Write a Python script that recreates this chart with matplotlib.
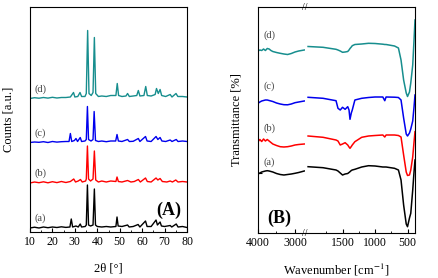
import matplotlib
matplotlib.use("Agg")
import matplotlib.pyplot as plt
from matplotlib.ticker import MultipleLocator, FixedLocator, NullLocator

plt.rcParams["font.family"] = ["Liberation Serif", "DejaVu Serif"]
plt.rcParams["mathtext.fontset"] = "stix"

# ---------------- XRD data (A) ----------------
# 2theta positions and counts (relative to each pattern's baseline)
xrd_a_tt = [10, 12, 14, 16, 18, 20, 22, 24, 26, 27.8, 28.4, 29, 30.5, 31.5, 32.4, 33, 34.6, 35.1, 35.6,
            36.1, 37, 38.1, 38.7, 39.2, 40, 42, 44, 46, 48.3, 48.8, 49.3, 51, 53.5, 54.2, 56, 58.2, 59,
            61.5, 62.2, 64, 66.2, 66.8, 68, 68.6, 70, 72.5, 73.2, 75.2, 76, 78, 80]
xrd_a_ct = [0, 0.8, 0, 1, 0.3, 1, 0.5, 1.2, 0.6, 1, 9, 1, 2, 1, 4, 1, 1.5, 3, 43,
            3, 2, 3, 39, 3, 1.5, 1, 1.5, 1, 1.5, 11, 2, 1.5, 3, 1, 1.5, 3.5, 1,
            7, 1.5, 1.5, 8, 3, 6, 2, 1.5, 2.5, 1, 4, 1, 1.5, 0.5]

xrd_b_tt = [10, 12, 14, 16, 18, 20, 22, 24, 26, 28, 29.5, 30.3, 31.5, 32.5, 33.3, 34.8, 35.1, 35.6,
            36.1, 37, 38.1, 38.7, 39.3, 40.5, 42, 44, 46, 48.3, 48.8, 49.4, 51, 53.5, 55, 56.5, 58.3,
            59.2, 61.5, 62.3, 64, 66.2, 67, 68, 69, 71, 72.5, 73.5, 75, 76, 78, 80]
xrd_b_ct = [0, 1, 0.3, 1.2, 0.2, 1.3, 0.4, 1.5, 0.5, 1.5, 4, 1, 2, 3.5, 1, 2, 4, 37,
            4, 2, 4, 32, 3, 1, 2, 1, 2, 1.5, 6, 1.5, 1, 2.5, 1, 1.5, 3.5,
            1, 5, 1.5, 1, 5, 3, 4.5, 1.5, 1, 2, 1, 3, 1, 1.5, 1]

xrd_c_tt = [10, 12, 14, 16, 18, 20, 22, 24, 26, 27.4, 28, 28.6, 29.8, 30.5, 31.2, 32.4, 33, 34.5, 35.1,
            35.6, 36.1, 37.2, 38.1, 38.6, 39.2, 40.5, 42, 44, 46, 48.2, 48.8, 49.4, 51, 53.5, 54.3, 56,
            58.3, 59, 61.5, 62.2, 64, 66.2, 67, 68, 68.8, 70.5, 72.5, 73.3, 75.2, 76, 78, 80]
xrd_c_ct = [0, 0.5, 0.2, 0.8, 0, 1, 0.4, 0.8, 1, 1, 9, 1, 2, 4, 1, 5, 1, 1.5, 3,
            36, 3, 1.5, 3, 31, 2, 1, 1.5, 0.8, 1.5, 1.5, 8, 1.5, 1, 3, 1, 1.2,
            4, 1, 6, 1.5, 1, 6, 3, 5, 1.5, 1, 2.5, 1, 3, 1, 1.5, 1]

xrd_d_tt = [10, 12, 14, 16, 18, 20, 22, 24, 26, 28, 29.4, 30, 31.3, 32.3, 33, 34.5, 35.1, 35.7, 36.3,
            37.3, 38.1, 38.7, 39.3, 40.5, 42, 44, 46, 48.3, 48.9, 49.5, 51, 52.8, 53.5, 54.3, 56, 57.6,
            58.3, 59, 60.8, 61.6, 62.3, 64, 65.8, 66.4, 67.2, 68, 68.7, 70.5, 72.5, 73.3, 75.1, 75.9,
            78, 80]
xrd_d_ct = [0, 0.8, 0.3, 1, 0.4, 1.2, 0.5, 1, 1, 1.5, 6, 1.5, 2, 6, 2, 2, 5, 68, 5,
            3, 6, 61, 5, 2, 2.5, 2, 3, 3, 15, 3, 2, 2.5, 5, 2, 2.5, 3,
            8, 2.5, 3, 12, 3, 2.5, 4, 10, 5, 9, 3, 2, 4, 1.5, 5, 2,
            2, 1.5]

xrd_offsets = [4, 49, 89.5, 133.5]

# ---------------- FTIR data (B) ----------------
ftir_hi_wn = [4000, 3950, 3900, 3850, 3800, 3750, 3700, 3650, 3600, 3500, 3400, 3300, 3200, 3100,
              3000, 2900, 2750]
ftir_hi_a = [59, 60, 61, 61.5, 62, 62.3, 62, 61.5, 61, 59.5, 58.5, 58, 58.5, 59, 59.7, 60.5, 62]
ftir_hi_b = [91.3, 93.5, 91.5, 94, 92, 93.5, 92, 90.5, 89, 87.5, 86.3, 86, 86.3, 87, 88, 88.5, 89]
ftir_hi_c = [129.7, 131, 132, 132.5, 133, 133, 132.5, 132, 131.5, 130, 129, 128.3, 128.2, 129, 130.3,
             131, 132]
ftir_hi_d = [182, 183, 182.5, 184, 182.5, 184.5, 184, 182.5, 181.5, 180.5, 179.7, 179, 178.5, 179.5,
             181, 182, 183]

ftir_lo_wn = [2030, 1800, 1600, 1570, 1535, 1500, 1460, 1420, 1400, 1385, 1365, 1350, 1310, 1205, 1100,
              1000, 880, 850, 830, 700, 640, 600, 560, 520, 500, 470, 450, 420, 400, 385]
ftir_lo_a = [66.3, 65.3, 63, 62, 60, 58, 59, 59.5, 60.5, 61.3, 62.5, 63, 63.7, 66, 67.3,
             67, 66, 66, 66, 64.7, 63, 53, 28, 9, 6.3, 15, 19.7, 43, 61, 73]
ftir_lo_b = [97, 95.7, 93, 92, 88, 89, 90.3, 88, 86, 84.7, 86.5, 88, 91.3, 95.7, 97,
             97.5, 98, 96, 98, 98, 97.5, 96, 78, 61, 57.5, 58, 63, 76, 91, 101.3]
ftir_lo_c = [135.7, 134.7, 132.3, 124.7, 123, 125.7, 123.7, 126.3, 123, 113.7, 120, 123, 133, 134.7,
             135.5, 136, 136, 132.3, 136, 135.8, 135.5, 133, 115, 99, 97, 100, 104, 112, 126, 138]
ftir_lo_d = [186.5, 185.7, 183.7, 183, 182, 180.7, 181, 181.5, 183, 184.5, 186, 187.3, 188.5, 189,
             189.7, 189.5, 188.8, 188.5, 188.5, 187, 185, 173, 153, 140, 136.5, 141, 150, 168, 193, 213]

labels = ["(a)", "(b)", "(c)", "(d)"]
colors = ["black", "#ff0000", "#0000ee", "#178e8e"]

W, H = 438, 278


def box(x0, y0, x1, y1):
    """rectangle en pixels -> coordonnées figure"""
    return [x0 / W, 1 - y1 / H, (x1 - x0) / W, (y1 - y0) / H]


fig = plt.figure(figsize=(W / 100, H / 100), dpi=100)

# ---------- panel A ----------
ax = fig.add_axes(box(30, 7, 187, 232))
xrd_tt = [xrd_a_tt, xrd_b_tt, xrd_c_tt, xrd_d_tt]
xrd_ct = [xrd_a_ct, xrd_b_ct, xrd_c_ct, xrd_d_ct]
for tt, ct, off, col in zip(xrd_tt, xrd_ct, xrd_offsets, colors):
    ax.plot(tt, [c + off for c in ct], color=col, lw=1.0)
ax.set_xlim(10, 80)
ax.set_ylim(0, 225)
ax.xaxis.set_major_locator(MultipleLocator(10))
ax.xaxis.set_minor_locator(MultipleLocator(5))
ax.yaxis.set_major_locator(NullLocator())
ax.tick_params(axis="x", which="both", direction="in", labelsize=8.5, pad=3)
ax.tick_params(axis="x", which="major", length=3)
ax.tick_params(axis="x", which="minor", length=1.8)
ax.set_xlabel("2θ [°]", fontsize=9, labelpad=10)
ax.set_ylabel("Counts [a.u.]", fontsize=9, labelpad=11)
for lab, y in zip(labels, [13.7, 58.7, 99.3, 142.7]):
    ax.text(14.5, y, lab, ha="center", va="center", fontsize=7.5, color="#444444")
ax.text(71.7, 21.3, "(A)", ha="center", va="center", fontsize=13, fontweight="bold")

# ---------- panel B (axe coupé) ----------
ax_l = fig.add_axes(box(258, 7, 304.5, 233))
ax_r = fig.add_axes(box(304.5, 7, 415, 233))
hi = [ftir_hi_a, ftir_hi_b, ftir_hi_c, ftir_hi_d]
lo = [ftir_lo_a, ftir_lo_b, ftir_lo_c, ftir_lo_d]
for h, l, col in zip(hi, lo, colors):
    ax_l.plot(ftir_hi_wn, h, color=col, lw=1.1)
    ax_r.plot(ftir_lo_wn, l, color=col, lw=1.1)

ax_l.set_xlim(4000, 2743)
ax_r.set_xlim(2085, 385)
for a in (ax_l, ax_r):
    a.set_ylim(0, 226)
    a.tick_params(axis="x", which="both", direction="in", labelsize=8.5, pad=3)
    a.tick_params(axis="x", which="major", length=3)
    a.tick_params(axis="x", which="minor", length=1.8)
ax_l.spines["right"].set_visible(False)
ax_r.spines["left"].set_visible(False)
ax_l.xaxis.set_major_locator(FixedLocator([4000, 3000]))
ax_l.xaxis.set_minor_locator(FixedLocator([3500]))
ax_r.xaxis.set_major_locator(FixedLocator([1500, 1000, 500]))
ax_r.xaxis.set_minor_locator(FixedLocator([1750, 1250, 750]))
ax_l.yaxis.set_major_locator(FixedLocator([60]))
ax_l.tick_params(axis="y", direction="in", length=3, labelleft=False)
ax_r.yaxis.set_major_locator(NullLocator())
ax_l.set_ylabel("Transmittance [%]", fontsize=9, labelpad=11)
fig.text(336.5 / W, 1 - 270 / H, "Wavenumber [cm$^{-1}$]", ha="center", va="center", fontsize=9)

# marques de coupure "//"
for yb in (7, 234):
    fig.text(305 / W, 1 - yb / H, "//", ha="center", va="center", fontsize=7)

for lab, y in zip(labels, [71, 105, 147, 198]):
    ax_l.text(3685, y, lab, ha="center", va="center", fontsize=7.5, color="#444444")
ax_l.text(3413, 14.7, "(B)", ha="center", va="center", fontsize=13, fontweight="bold")

fig.savefig("out.png", dpi=100)
